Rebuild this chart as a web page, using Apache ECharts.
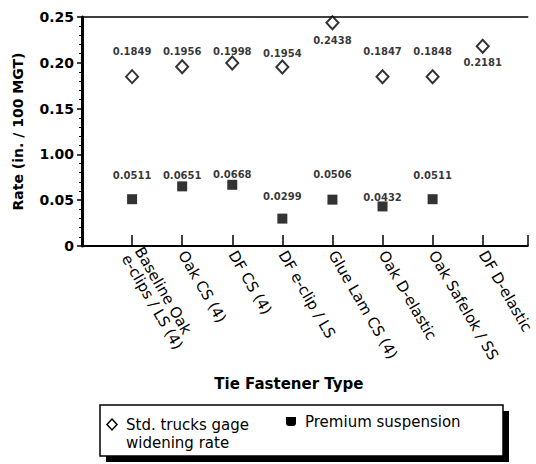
<!DOCTYPE html>
<html><head><meta charset="utf-8">
<script src="https://cdn.jsdelivr.net/npm/echarts@6/dist/echarts.min.js"></script>
<style>html,body{margin:0;padding:0;background:#fff}#c{width:536px;height:464px}</style>
</head><body><div id="c"></div>
<script>
// ---- data ----
const categories = ['Baseline Oak\ne-clips / LS (4)', 'Oak CS (4)', 'DF CS (4)', 'DF e-clip / LS',
  'Glue Lam CS (4)', 'Oak D-elastic', 'Oak Safelok / SS', 'DF D-elastic'];
const stdValues = [0.1849, 0.1956, 0.1998, 0.1954, 0.2438, 0.1847, 0.1848, 0.2181];
const premiumValues = [0.0511, 0.0651, 0.0668, 0.0299, 0.0506, 0.0432, 0.0511, null];
const yTickLabels = ['0', '0.05', '1.00', '0.15', '0.20', '0.25'];
const legendLines = [['Std. trucks gage', 'widening rate'], ['Premium suspension']];

// ---- label layout (pixel offsets of value labels from their marks) ----
const stdLabelDy = [-25, -15, -11, -14, 18, -25, -25, 16];
const premLabelDy = [-24, -11, -10, -22, -25, -9, -24, 0];

const F = 'DejaVu Sans';
function points(vals, dys) {
  const out = [];
  vals.forEach((v, i) => {
    if (v == null) return;
    out.push({ value: [i + 1, v], label: { offset: [0, dys[i]] } });
  });
  return out;
}
const valueLabel = {
  show: true, position: 'inside', color: '#000', fontFamily: F, fontSize: 10, fontWeight: 'bold',
  formatter: p => p.value[1].toFixed(4)
};

const chart = echarts.init(document.getElementById('c'), null, { renderer: 'svg' });
chart.setOption({
  animation: false,
  backgroundColor: '#fff',
  grid: { left: 82, right: 0, top: 17, bottom: 218 },
  xAxis: [{
    type: 'value', min: 0, max: 8.9, interval: 1,
    axisLine: { show: true, lineStyle: { color: '#000', width: 2 } },
    axisTick: { show: true, inside: true, length: 11, lineStyle: { color: '#000', width: 1.5 } },
    splitLine: { show: false },
    axisLabel: {
      rotate: -60, margin: 6, color: '#000', fontFamily: F, fontSize: 15,
      formatter: v => categories[Math.round(v) - 1] || ''
    },
    name: 'Tie Fastener Type', nameLocation: 'middle', nameGap: 130,
    nameTextStyle: { color: '#000', fontFamily: F, fontSize: 15, fontWeight: 'bold', padding: [0, 32, 0, 0] }
  }, {
    type: 'value', position: 'top', min: 0, max: 8.9,
    axisLine: { show: true, lineStyle: { color: '#000', width: 1.5 } },
    axisTick: { show: false }, axisLabel: { show: false }, splitLine: { show: false }
  }],
  yAxis: {
    type: 'value', min: 0, max: 0.25, interval: 0.05,
    axisLine: { show: true, lineStyle: { color: '#000', width: 3 } },
    axisTick: { show: true, length: 5, lineStyle: { color: '#000', width: 1.5 } },
    minorTick: { show: true, splitNumber: 5, length: 3, lineStyle: { color: '#000', width: 1 } },
    splitLine: { show: false },
    axisLabel: {
      margin: 8, color: '#000', fontFamily: F, fontSize: 14, fontWeight: 'bold',
      formatter: v => yTickLabels[Math.round(v / 0.05)]
    },
    name: 'Rate (in. / 100 MGT)', nameLocation: 'middle', nameGap: 57,
    nameTextStyle: { color: '#000', fontFamily: F, fontSize: 14, fontWeight: 'bold' }
  },
  series: [{
    name: legendLines[0].join(' '), type: 'scatter', symbol: 'diamond', symbolSize: [12, 13],
    itemStyle: { color: '#fff', borderColor: '#000', borderWidth: 2 },
    label: valueLabel, data: points(stdValues, stdLabelDy)
  }, {
    name: legendLines[1].join(' '), type: 'scatter', symbol: 'rect', symbolSize: 10,
    itemStyle: { color: '#000' },
    label: valueLabel, data: points(premiumValues, premLabelDy)
  }],
  graphic: [
    { type: 'rect', shape: { x: 106, y: 411, width: 403, height: 51 }, style: { fill: '#000' } },
    { type: 'rect', shape: { x: 100, y: 405, width: 403, height: 51 }, style: { fill: '#fff', stroke: '#000', lineWidth: 1.5 } },
    { type: 'polygon', shape: { points: [[112, 419], [117, 424.5], [112, 430], [107, 424.5]] }, style: { fill: '#fff', stroke: '#000', lineWidth: 1.5 } },
    { type: 'text', x: 126, y: 425, style: { text: legendLines[0][0], fill: '#000', font: '15px "DejaVu Sans"', verticalAlign: 'middle' } },
    { type: 'text', x: 126, y: 443, style: { text: legendLines[0][1], fill: '#000', font: '15px "DejaVu Sans"', verticalAlign: 'middle' } },
    { type: 'rect', shape: { x: 286, y: 417, width: 10, height: 9, r: [0, 0, 3, 3] }, style: { fill: '#000' } },
    { type: 'text', x: 305, y: 422, style: { text: legendLines[1][0], fill: '#000', font: '15px "DejaVu Sans"', verticalAlign: 'middle' } }
  ]
});
</script></body></html>
